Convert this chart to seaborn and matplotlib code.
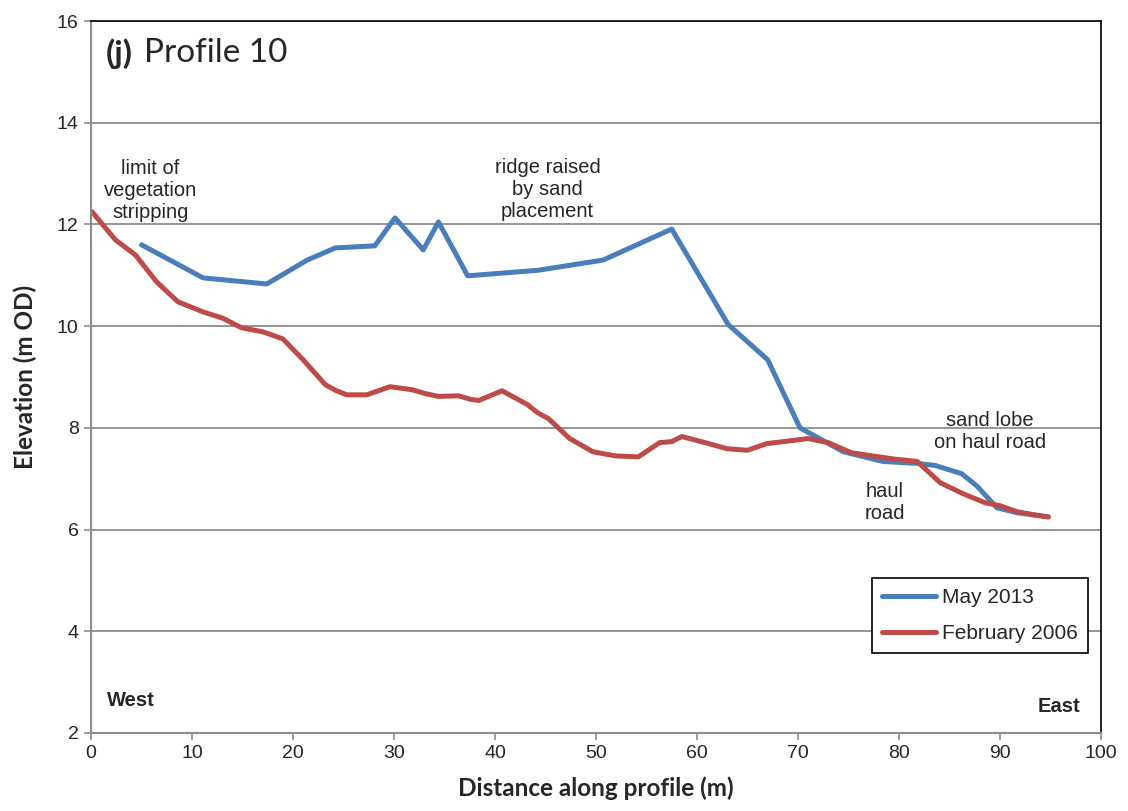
import matplotlib
matplotlib.use("Agg")
import matplotlib.pyplot as plt
import seaborn as sb
import pandas as pd

# profile readings (distance m, elevation m OD)
may2013_x = [5.0, 11.1, 17.4, 21.4, 24.2, 28.1, 30.1, 32.9, 34.4, 37.3, 44.3, 50.7, 57.5,
             63.1, 67.0, 70.2, 74.5, 78.4, 81.9, 83.6, 86.2, 87.7, 89.7, 91.7, 94.8]
may2013_y = [11.6, 10.95, 10.83, 11.3, 11.54, 11.58, 12.13, 11.5, 12.05, 10.99, 11.1, 11.3, 11.91,
             10.03, 9.34, 8.0, 7.53, 7.34, 7.3, 7.26, 7.1, 6.86, 6.43, 6.33, 6.25]

feb2006_x = [0.1, 2.4, 4.4, 6.5, 8.6, 11.1, 13.0, 14.9, 17.0, 19.0, 21.0, 23.2, 24.2, 25.3, 27.3,
             29.6, 31.8, 33.2, 34.4, 36.4, 37.6, 38.4, 40.7, 43.2, 44.2, 45.3, 47.4, 49.7, 51.9,
             54.2, 56.3, 57.5, 58.5, 60.8, 63.0, 65.0, 66.9, 71.0, 73.0, 75.3, 79.4, 81.8, 84.1,
             86.3, 88.5, 90.0, 91.7, 94.0, 94.8]
feb2006_y = [12.25, 11.7, 11.4, 10.87, 10.48, 10.28, 10.16, 9.97, 9.89, 9.75, 9.34, 8.85, 8.74,
             8.65, 8.65, 8.81, 8.75, 8.67, 8.62, 8.63, 8.56, 8.54, 8.73, 8.46, 8.3, 8.18, 7.79,
             7.53, 7.45, 7.43, 7.71, 7.73, 7.83, 7.71, 7.59, 7.56, 7.69, 7.79, 7.71, 7.51, 7.39,
             7.34, 6.92, 6.71, 6.53, 6.47, 6.35, 6.27, 6.25]

series_names = ['May 2013', 'February 2006']
colours = {'May 2013': '#4A7EBB', 'February 2006': '#BE4B48'}

df = pd.concat([
    pd.DataFrame({'Distance': may2013_x, 'Elevation': may2013_y, 'Survey': series_names[0]}),
    pd.DataFrame({'Distance': feb2006_x, 'Elevation': feb2006_y, 'Survey': series_names[1]}),
])

sb.set_style('white')
plt.rcParams['font.family'] = ['Liberation Sans', 'DejaVu Sans']

fig = plt.figure(figsize=(11.28, 8.11), dpi=100)
ax = fig.add_axes([0.0807, 0.0962, 0.8953, 0.8778])

sb.lineplot(data=df, x='Distance', y='Elevation', hue='Survey', hue_order=series_names,
            palette=colours, sort=False, estimator=None, linewidth=3.6,
            solid_capstyle='round', solid_joinstyle='round', ax=ax)

ax.set_xlim(0, 100)
ax.set_ylim(2, 16)
ax.set_xticks(range(0, 101, 10))
ax.set_yticks(range(2, 17, 2))
ax.yaxis.grid(True, color='#8c8c8c', linewidth=1.3)
ax.set_axisbelow(True)
ax.tick_params(axis='both', which='major', labelsize=14, length=5, width=1.2,
               color='#8c8c8c', direction='out', bottom=True, left=True, pad=4)
for side in ['left', 'bottom']:
    ax.spines[side].set_color('#8c8c8c')
    ax.spines[side].set_linewidth(1.5)
for side in ['top', 'right']:
    ax.spines[side].set_color('black')
    ax.spines[side].set_linewidth(1.2)

ax.set_xlabel('Distance along profile (m)', fontsize=17.5, fontweight='bold',
              family='Lato', labelpad=10)
ax.set_ylabel('Elevation (m OD)', fontsize=17.5, fontweight='bold', family='Lato', labelpad=14)

ax.text(0.015, 0.955, '(j)', transform=ax.transAxes, fontsize=24, fontweight='bold',
        family='Lato', va='center', ha='left')
ax.text(0.052, 0.955, 'Profile 10', transform=ax.transAxes, fontsize=24,
        family='Lato', va='center', ha='left')

note_kw = dict(fontsize=14.5, ha='center', va='center', linespacing=1.2)
ax.text(5.9, 12.66, 'limit of\nvegetation\nstripping', **note_kw)
ax.text(45.2, 12.68, 'ridge raised\nby sand\nplacement', **note_kw)
ax.text(89.0, 7.92, 'sand lobe\non haul road', **note_kw)
ax.text(78.6, 6.53, 'haul\nroad', **note_kw)
ax.text(0.016, 0.045, 'West', transform=ax.transAxes, fontsize=14.5, fontweight='bold',
        ha='left', va='center')
ax.text(0.98, 0.037, 'East', transform=ax.transAxes, fontsize=14.5, fontweight='bold',
        ha='right', va='center')

leg = ax.legend(loc='lower right', bbox_to_anchor=(0.987, 0.112), fontsize=15,
                frameon=True, fancybox=False, edgecolor='black', framealpha=1,
                handlelength=2.6, borderpad=0.5, labelspacing=0.8, handletextpad=0.25,
                borderaxespad=0.0, title=None)
leg.get_frame().set_linewidth(1.2)

fig.savefig('out.png', dpi=100)
